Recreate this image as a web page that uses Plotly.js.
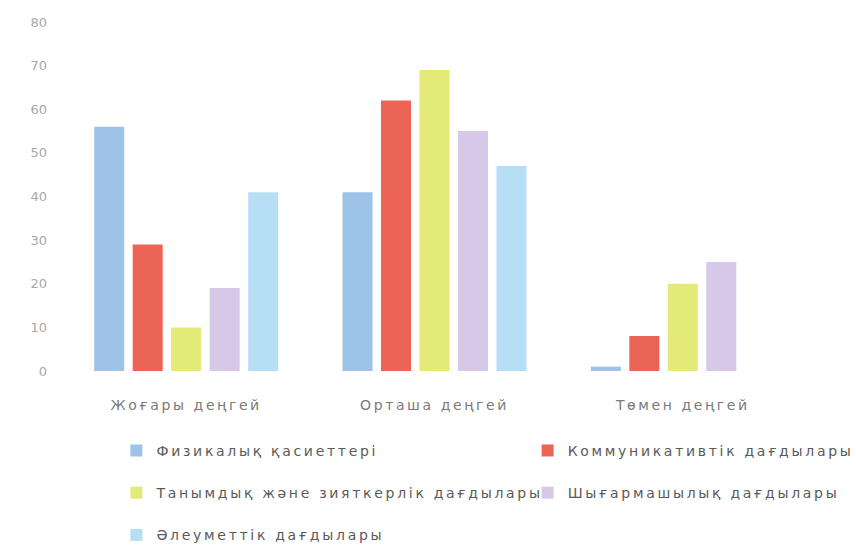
<!DOCTYPE html>
<html>
<head>
<meta charset="utf-8">
<script src="https://cdn.plot.ly/plotly-3.0.1.min.js"></script>
<style>
html, body { margin: 0; padding: 0; background: #ffffff; }
#chart { width: 856px; height: 551px; }
.xtick text { letter-spacing: 2.6px !important; }
.legendtext, .legend text, .legend2 text, g[class^="legend"] text { letter-spacing: 2.7px !important; }
.scrollbox { clip-path: none !important; }
</style>
</head>
<body>
<div id="chart"></div>
<script>
var categories = ['Жоғары деңгей', 'Орташа деңгей', 'Төмен деңгей'];
var seriesNames = [
  'Физикалық қасиеттері',
  'Коммуникативтік дағдылары',
  'Танымдық және зияткерлік дағдылары',
  'Шығармашылық дағдылары',
  'Әлеуметтік дағдылары'
];
var physical = [56, 41, 1];
var communicative = [29, 62, 8];
var cognitive = [10, 69, 20];
var creative = [19, 55, 25];
var social = [41, 47, 0];
var yTicks = [0, 10, 20, 30, 40, 50, 60, 70, 80];

var seriesValues = [physical, communicative, cognitive, creative, social];
var colors = ['#9DC3E8', '#EC6456', '#E4EA78', '#D8C8E8', '#B6DFF5'];
var legendFor = ['legend', 'legend2', 'legend', 'legend2', 'legend'];

var traces = seriesValues.map(function (vals, i) {
  return {
    type: 'bar',
    name: seriesNames[i],
    x: categories,
    y: vals,
    marker: { color: colors[i], line: { width: 0 } },
    legend: legendFor[i],
    legendgroup: 'g' + i,
    hoverinfo: 'skip'
  };
});

var legendFont = { family: 'DejaVu Sans', size: 14, color: '#5a5a5a' };

var layout = {
  width: 856,
  height: 551,
  paper_bgcolor: '#ffffff',
  plot_bgcolor: '#ffffff',
  margin: { l: 62, r: 49, t: 22, b: 180, autoexpand: false },
  barmode: 'group',
  bargap: 0.225,
  bargroupgap: 0.22,
  showlegend: true,
  xaxis: {
    type: 'category',
    showgrid: false,
    zeroline: false,
    showline: false,
    ticks: '',
    ticklabelstandoff: 24,
    tickfont: { family: 'DejaVu Sans', size: 14, color: '#7a7a7a' }
  },
  yaxis: {
    range: [0, 80],
    tickvals: yTicks,
    ticktext: yTicks.map(String),
    showgrid: false,
    zeroline: false,
    showline: false,
    ticks: '',
    ticklabelstandoff: 14,
    tickfont: { family: 'DejaVu Sans', size: 13, color: '#a8a8a8' }
  },
  legend: {
    orientation: 'v',
    x: 0.073, xanchor: 'left',
    y: -0.183, yanchor: 'top',
    xref: 'paper', yref: 'paper',
    tracegroupgap: 21,
    bgcolor: 'rgba(0,0,0,0)',
    font: legendFont,
    itemwidth: 30
  },
  legend2: {
    orientation: 'v',
    x: 0.625, xanchor: 'left',
    y: -0.183, yanchor: 'top',
    xref: 'paper', yref: 'paper',
    tracegroupgap: 21,
    bgcolor: 'rgba(0,0,0,0)',
    font: legendFont,
    itemwidth: 30
  }
};

function spaceText() {
  document.querySelectorAll('.legend text, .legend2 text, .legendtext').forEach(function (el) {
    el.setAttribute('letter-spacing', '2.7');
    el.style.letterSpacing = '2.7px';
  });
  document.querySelectorAll('.xtick text').forEach(function (el) {
    el.setAttribute('letter-spacing', '2.6');
    el.style.letterSpacing = '2.6px';
  });
  document.querySelectorAll('.scrollbox').forEach(function (el) {
    el.removeAttribute('clip-path');
  });
}

var gd = document.getElementById('chart');
Plotly.newPlot(gd, traces, layout, { displayModeBar: false, staticPlot: true }).then(function () {
  spaceText();
  gd.on('plotly_afterplot', spaceText);
  setTimeout(spaceText, 50);
  setTimeout(spaceText, 300);
});
</script>
</body>
</html>
